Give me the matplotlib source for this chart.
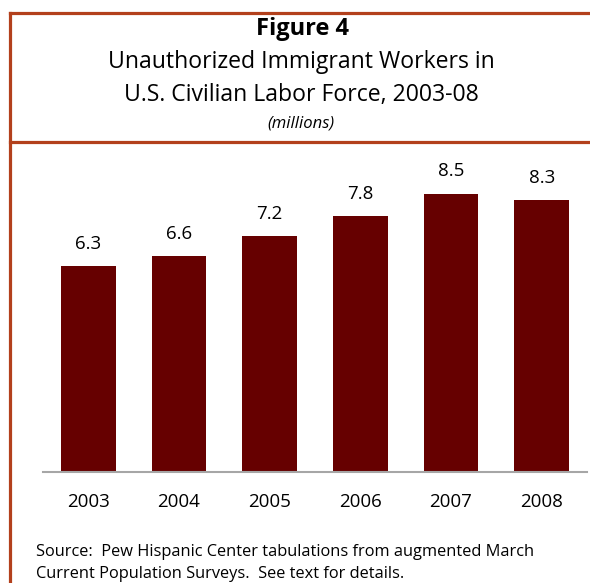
import matplotlib.pyplot as plt
from matplotlib.lines import Line2D

# data
years = ["2003", "2004", "2005", "2006", "2007", "2008"]
workers = [6.3, 6.6, 7.2, 7.8, 8.5, 8.3]

plt.rcParams['font.family'] = ['Open Sans', 'DejaVu Sans']

W, H = 590, 583
fig = plt.figure(figsize=(W / 100, H / 100), dpi=100)
fig.patch.set_facecolor('white')

border = '#b3401c'


def fx(px):
    return px / W


def fy(py):
    return 1 - py / H


# frame lines: top, left, under the title
fig.add_artist(Line2D([fx(10), 1], [fy(13), fy(13)], color=border, lw=2.3, solid_capstyle='projecting'))
fig.add_artist(Line2D([fx(10), fx(10)], [fy(13), 0], color=border, lw=2.3, solid_capstyle='projecting'))
fig.add_artist(Line2D([fx(10), 1], [fy(142), fy(142)], color=border, lw=2.3))

# titles
fig.text(fx(302), fy(29), "Figure 4", ha='center', va='center', fontsize=17, fontweight='bold')
fig.text(fx(301), fy(62), "Unauthorized Immigrant Workers in", ha='center', va='center', fontsize=16.6)
fig.text(fx(301), fy(95), "U.S. Civilian Labor Force, 2003-08", ha='center', va='center', fontsize=16.6)
fig.text(fx(301), fy(123), "(millions)", ha='center', va='center', fontsize=12, style='italic')

# bar chart
ax = fig.add_axes([fx(43), fy(472), fx(587) - fx(43), fy(150) - fy(472)])
x = range(len(years))
ax.bar(x, workers, width=0.6, color='#660000')
for i, v in enumerate(workers):
    ax.text(i, v + 0.4, f"{v:.1f}", ha='center', va='bottom', fontsize=13.5)

ax.set_xlim(-0.5, 5.5)
ax.set_ylim(0, 9.83)
ax.set_xticks(list(x))
ax.set_xticklabels(years, fontsize=13.5)
ax.tick_params(axis='x', length=0, pad=15)
ax.set_yticks([])
for s in ['top', 'left', 'right']:
    ax.spines[s].set_visible(False)
ax.spines['bottom'].set_color('#a6a6a6')
ax.spines['bottom'].set_linewidth(1.5)

# source note
fig.text(fx(36), fy(552), "Source:  Pew Hispanic Center tabulations from augmented March",
         ha='left', va='center', fontsize=11.8)
fig.text(fx(36), fy(574), "Current Population Surveys.  See text for details.",
         ha='left', va='center', fontsize=11.8)

fig.savefig("out.png", dpi=100)
